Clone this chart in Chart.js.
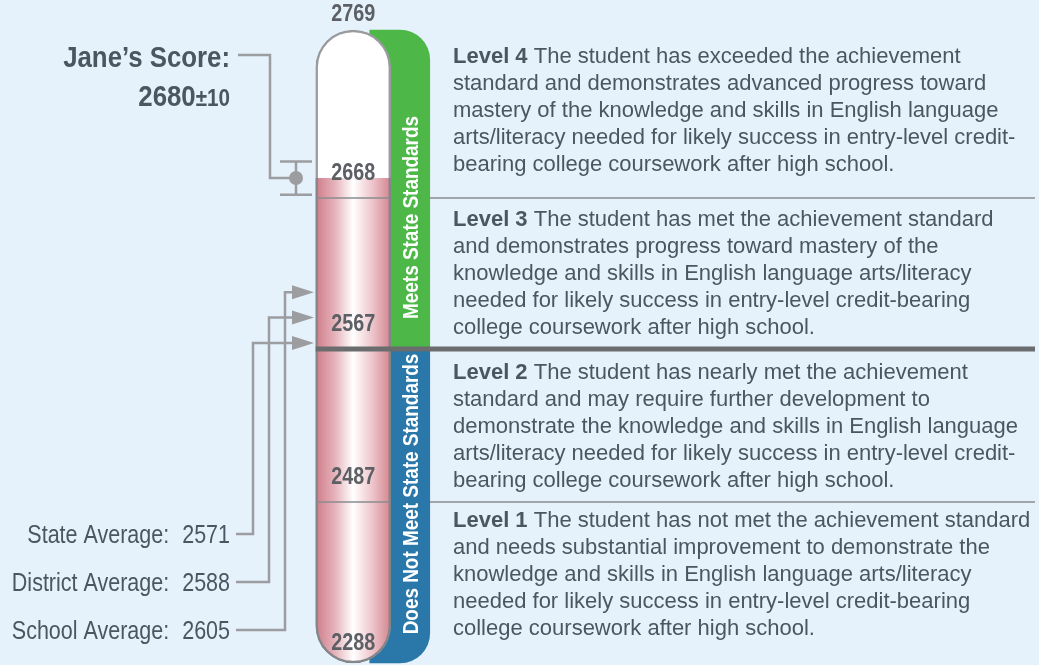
<!DOCTYPE html>
<html lang="en">
<head>
<meta charset="UTF-8">
<title>Score Report - ELA/Literacy</title>
<script src="https://cdn.jsdelivr.net/npm/chart.js"></script>
<style>
  html, body { margin: 0; padding: 0; background: #e6f2fb; }
  #wrap { width: 1039px; height: 665px; }
</style>
</head>
<body>
<div id="wrap"><canvas id="scoreChart" width="1039" height="665"></canvas></div>
<script>
// cut scores, bottom to top
const cutScores = [2288, 2487, 2567, 2668, 2769];
const levelNames = ['Level 1', 'Level 2', 'Level 3', 'Level 4'];
const levelText = [
    ['The student has not met the achievement standard',
     'and needs substantial improvement to demonstrate the',
     'knowledge and skills in English language arts/literacy',
     'needed for likely success in entry-level credit-bearing',
     'college coursework after high school.'],
    ['The student has nearly met the achievement',
     'standard and may require further development to',
     'demonstrate the knowledge and skills in English language',
     'arts/literacy needed for likely success in entry-level credit-',
     'bearing college coursework after high school.'],
    ['The student has met the achievement standard',
     'and demonstrates progress toward mastery of the',
     'knowledge and skills in English language arts/literacy',
     'needed for likely success in entry-level credit-bearing',
     'college coursework after high school.'],
    ['The student has exceeded the achievement',
     'standard and demonstrates advanced progress toward',
     'mastery of the knowledge and skills in English language',
     'arts/literacy needed for likely success in entry-level credit-',
     'bearing college coursework after high school.']
];
const bandNames = ['Does Not Meet State Standards', 'Meets State Standards'];
const bandRanges = [[2288, 2567], [2567, 2769]];
const studentLabel = 'Jane\u2019s Score:';
const studentScore = 2680;
const scoreError = 10;
const avgNames = ['State Average:', 'District Average:', 'School Average:'];
const avgValues = [2571, 2588, 2605];

// where each cut score sits along the column (0 = bottom, 1 = top)
const cutPos = [0, 0.2543, 0.4961, 0.7346, 1];

// y scale that gives each performance level its own slice of the column
class CutScale extends Chart.LinearScale {
    static id = 'cut';
    static defaults = {};
    getPixelForValue(value) {
        let i = 0;
        while (i < cutScores.length - 2 && value > cutScores[i + 1]) i++;
        const t = (value - cutScores[i]) / (cutScores[i + 1] - cutScores[i]);
        return this.getPixelForDecimal(cutPos[i] + t * (cutPos[i + 1] - cutPos[i]));
    }
    getValueForPixel(pixel) {
        const d = this.getDecimalForPixel(pixel);
        let i = 0;
        while (i < cutPos.length - 2 && d > cutPos[i + 1]) i++;
        const t = (d - cutPos[i]) / (cutPos[i + 1] - cutPos[i]);
        return cutScores[i] + t * (cutScores[i + 1] - cutScores[i]);
    }
}
Chart.register(CutScale);

const face = '"Liberation Sans", Arial, sans-serif';
const narrow = 0.86;   // squeeze for the condensed headings
const textColor = '#4a5660';
const numColor = '#5c5f63';
const lineGray = '#9c9da0';

// fillText with horizontal squeeze
function txt(ctx, s, x, y, font, align, sx) {
    ctx.save();
    ctx.font = font;
    ctx.textAlign = align;
    ctx.translate(x, y);
    ctx.scale(sx, 1);
    ctx.fillText(s, 0, 0);
    ctx.restore();
}
function txtWidth(ctx, s, font, sx) {
    ctx.save();
    ctx.font = font;
    const w = ctx.measureText(s).width * sx;
    ctx.restore();
    return w;
}

function pinkFill(c) {
    const chart = c.chart;
    if (!chart.chartArea) return '#e4aab3';
    const cx = chart.scales.x.getPixelForValue(0);
    const g = chart.ctx.createLinearGradient(cx - 37.5, 0, cx + 37.5, 0);
    g.addColorStop(0, '#cf7d8a');
    g.addColorStop(0.25, '#e5b1b9');
    g.addColorStop(0.5, '#ffffff');
    g.addColorStop(0.75, '#eec6cc');
    g.addColorStop(1, '#d3858f');
    return g;
}

const overlay = {
    id: 'overlay',
    afterDatasetsDraw(chart) {
        const ctx = chart.ctx;
        const y = chart.scales.y;
        const cx = chart.scales.x.getPixelForValue(0);
        const left = cx - 37.5, right = cx + 37.5;
        const bandRight = 430, textX = 453, edge = 1035;

        ctx.save();
        // level boundaries
        cutScores.slice(1, -1).forEach(c => {
            const py = y.getPixelForValue(c);
            ctx.beginPath();
            if (c === bandRanges[0][1]) {
                ctx.strokeStyle = '#6b6c6e';
                ctx.lineWidth = 5;
                ctx.moveTo(left, py); ctx.lineTo(edge, py);
            } else {
                ctx.strokeStyle = '#8b8c8f';
                ctx.lineWidth = 1.5;
                ctx.moveTo(left + 1, py); ctx.lineTo(right - 1, py);
                ctx.moveTo(bandRight, py); ctx.lineTo(edge, py);
            }
            ctx.stroke();
        });

        // cut score labels
        ctx.fillStyle = numColor;
        ctx.textBaseline = 'middle';
        const numFont = 'bold 23px ' + face;
        cutScores.forEach((c, i) => {
            const py = y.getPixelForValue(c);
            const off = i === cutScores.length - 1 ? -15 : (i === 0 ? -19 : -24);
            txt(ctx, String(c), cx, py + off, numFont, 'center', narrow);
        });

        // band labels (rotated)
        ctx.fillStyle = '#ffffff';
        const shift = [-12, 28];
        bandNames.forEach((name, i) => {
            const my = (y.getPixelForValue(bandRanges[i][0]) + y.getPixelForValue(bandRanges[i][1])) / 2 + shift[i];
            ctx.save();
            ctx.translate(411, my);
            ctx.rotate(-Math.PI / 2);
            txt(ctx, name, 0, 1, 'bold 22px ' + face, 'center', narrow);
            ctx.restore();
        });

        // level descriptions
        ctx.textBaseline = 'alphabetic';
        ctx.fillStyle = textColor;
        const firstBase = [25, 30, 28, 33];
        levelText.forEach((lines, i) => {
            let ly = y.getPixelForValue(cutScores[i + 1]) + firstBase[i];
            lines.forEach((ln, j) => {
                let x = textX;
                if (j === 0) {
                    const bf = 'bold 22px ' + face;
                    txt(ctx, levelNames[i], x, ly, bf, 'left', 1);
                    x += txtWidth(ctx, levelNames[i] + ' ', bf, 1);
                }
                txt(ctx, ln, x, ly, '22px ' + face, 'left', 1);
                ly += 27;
            });
        });

        // student score: label, leader, error bar and dot
        const sy = y.getPixelForValue(studentScore);
        const hi = y.getPixelForValue(studentScore + scoreError);
        const lo = y.getPixelForValue(studentScore - scoreError);
        const ex = 296;
        const bigBold = 'bold 30px ' + face;
        const smallBold = 'bold 24px ' + face;
        txt(ctx, studentLabel, 230, 67, bigBold, 'right', narrow);
        const errTxt = '\u00b1' + scoreError;
        const ew = txtWidth(ctx, errTxt, smallBold, narrow);
        txt(ctx, errTxt, 230, 106, smallBold, 'right', narrow);
        txt(ctx, String(studentScore), 230 - ew, 106, bigBold, 'right', narrow);

        ctx.strokeStyle = lineGray;
        ctx.lineWidth = 2.5;
        ctx.beginPath();
        ctx.moveTo(238, 55); ctx.lineTo(270, 55); ctx.lineTo(270, sy); ctx.lineTo(ex, sy);
        ctx.moveTo(ex, hi); ctx.lineTo(ex, lo);
        ctx.moveTo(ex - 16, hi); ctx.lineTo(ex + 16, hi);
        ctx.moveTo(ex - 16, lo); ctx.lineTo(ex + 16, lo);
        ctx.stroke();
        ctx.fillStyle = lineGray;
        ctx.beginPath();
        ctx.arc(ex, sy, 7, 0, Math.PI * 2);
        ctx.fill();

        // averages with arrows into the column
        const labelY = [543, 591, 639];
        const legX = [253, 269, 285];
        const avgFont = '25px ' + face;
        avgNames.forEach((name, i) => {
            const ay = y.getPixelForValue(avgValues[i]);
            ctx.fillStyle = textColor;
            const val = String(avgValues[i]);
            txt(ctx, val, 230, labelY[i], avgFont, 'right', narrow);
            txt(ctx, name, 230 - txtWidth(ctx, val, avgFont, narrow) - 13, labelY[i], avgFont, 'right', narrow);

            const ly = labelY[i] - 9;
            ctx.strokeStyle = lineGray;
            ctx.lineWidth = 2.5;
            ctx.beginPath();
            ctx.moveTo(236, ly); ctx.lineTo(legX[i], ly);
            ctx.lineTo(legX[i], ay); ctx.lineTo(294, ay);
            ctx.stroke();
            ctx.fillStyle = lineGray;
            ctx.beginPath();
            ctx.moveTo(292, ay - 7); ctx.lineTo(314, ay); ctx.lineTo(292, ay + 7);
            ctx.closePath();
            ctx.fill();
        });
        ctx.restore();
    }
};

const ctx = document.getElementById('scoreChart').getContext('2d');
new Chart(ctx, {
    type: 'bar',
    data: {
        labels: ['Score', 'Band'],
        datasets: [
            {
                label: 'Score',
                data: [[cutScores[0], studentScore], null],
                backgroundColor: pinkFill,
                borderColor: '#858689',
                borderWidth: 2.5,
                borderSkipped: 'top',
                borderRadius: { bottomLeft: 37.5, bottomRight: 37.5 },
                barThickness: 75,
                order: 1
            },
            {
                label: 'Scale',
                data: [[cutScores[0], cutScores[cutScores.length - 1]], null],
                backgroundColor: '#ffffff',
                borderColor: '#9a9b9e',
                borderWidth: 2.5,
                borderSkipped: false,
                borderRadius: 37.5,
                barThickness: 75,
                order: 2
            },
            {
                label: bandNames[1],
                data: [null, bandRanges[1]],
                backgroundColor: '#4db848',
                borderSkipped: false,
                borderRadius: { topRight: 30 },
                barThickness: 60,
                order: 3
            },
            {
                label: bandNames[0],
                data: [null, bandRanges[0]],
                backgroundColor: '#2a77a9',
                borderSkipped: false,
                borderRadius: { bottomRight: 30 },
                barThickness: 60,
                order: 3
            }
        ]
    },
    options: {
        responsive: false,
        animation: false,
        events: [],
        layout: { padding: { left: 330, right: 616, top: 30, bottom: 2 } },
        datasets: { bar: { grouped: false, clip: false } },
        plugins: { legend: { display: false }, tooltip: { enabled: false } },
        scales: {
            x: { type: 'category', display: false, offset: true },
            y: { type: 'cut', display: false, min: cutScores[0], max: cutScores[cutScores.length - 1] }
        }
    },
    plugins: [overlay]
});
</script>
</body>
</html>
